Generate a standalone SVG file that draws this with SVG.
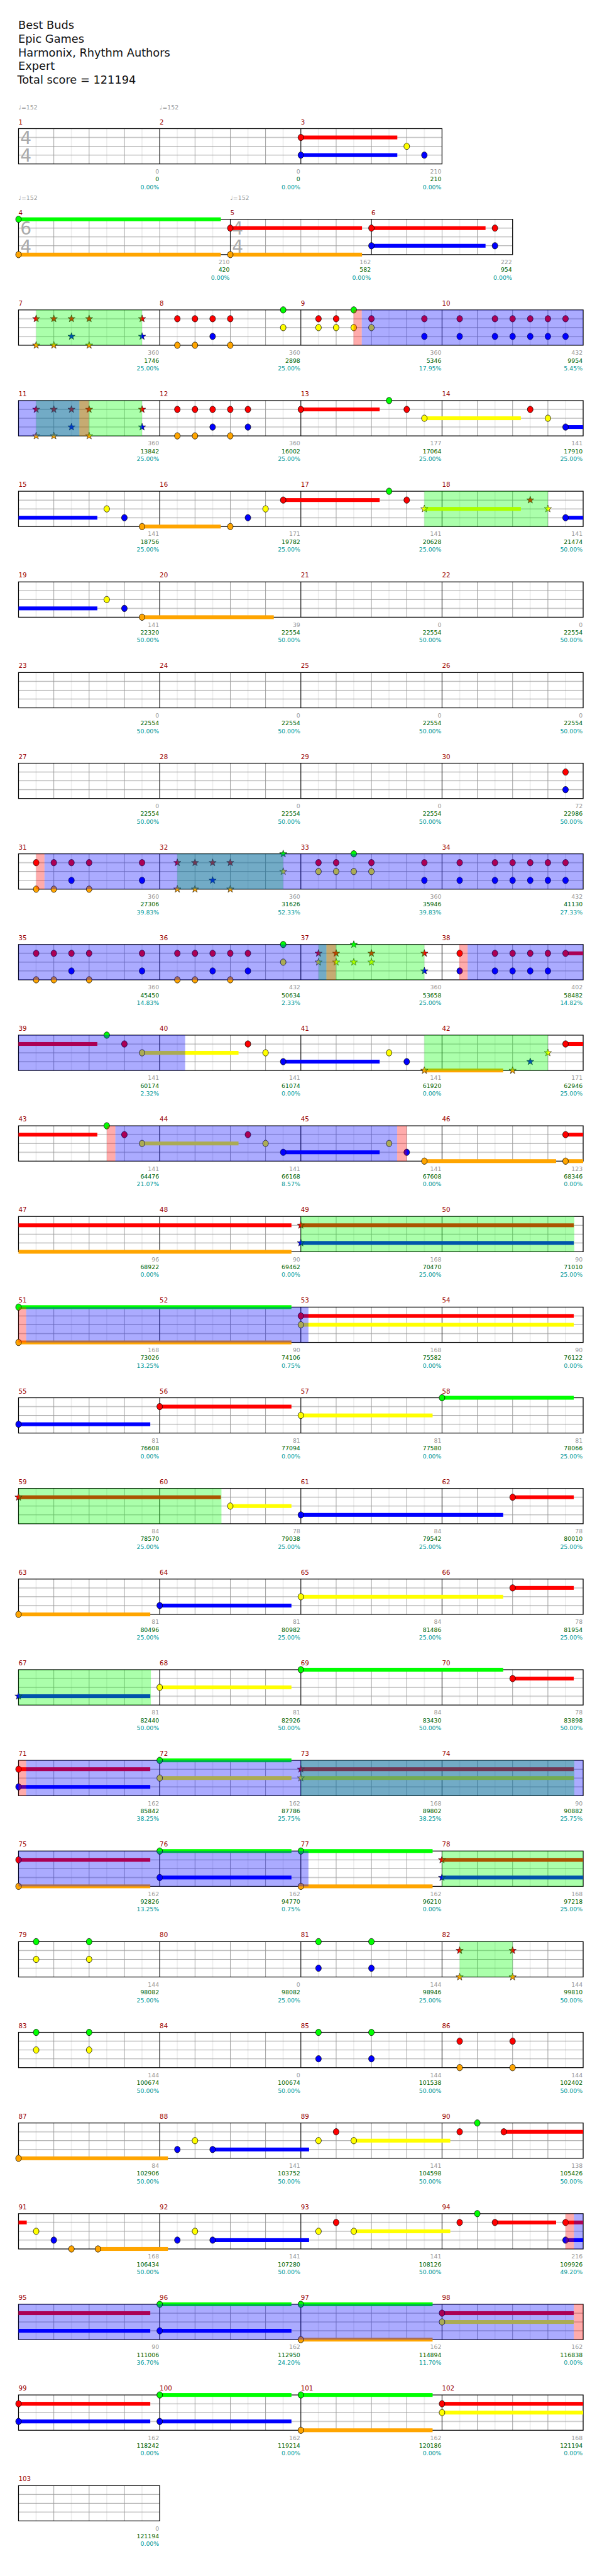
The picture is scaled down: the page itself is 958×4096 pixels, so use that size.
<svg xmlns="http://www.w3.org/2000/svg" xmlns:xlink="http://www.w3.org/1999/xlink" width="958" height="4096" viewBox="0 0 958 4096">
<defs>
<style>
.R{fill:#f00}.G{fill:#0f0}.Y{fill:#ff0}.B{fill:#00f}.O{fill:#ffa500}
.og{fill:#0f0;opacity:.33}.ob{fill:#00f;opacity:.33}.or{fill:#f00;opacity:.33}
.ml{stroke:#000;stroke-width:1;fill:none}
.st{fill:none;stroke:#000;stroke-width:1.3}
.ti{font:19px "DejaVu Sans",sans-serif;fill:#111}
.tp{font:10px "DejaVu Sans",sans-serif;fill:#999}
.mn{font:11px "DejaVu Sans",sans-serif;fill:#990000}
.ts{font:30px "DejaVu Sans",sans-serif;fill:#aaa;text-anchor:middle}
.a,.b,.c{font:10px "DejaVu Sans",sans-serif;text-anchor:end}
.a{fill:#999}.b{fill:#006400}.c{fill:#009999}
</style>
<pattern id="grid" patternUnits="userSpaceOnUse" x="31" y="0" width="60" height="60">
<rect x="30" y="0" width="1" height="60" fill="#ddd"/>
<rect x="0" y="0" width="1" height="60" fill="#999"/>
<rect x="0" y="14.5" width="60" height="1" fill="#999"/>
<rect x="0" y="29.5" width="60" height="1" fill="#999"/>
<rect x="0" y="44.5" width="60" height="1" fill="#999"/>
</pattern>
<ellipse id="h" cx="0" cy="0" rx="4.8" ry="5.5" stroke="#000" stroke-width="0.8"/>
<path id="s" d="M0,-6.5L1.53,-2.1L6.18,-2.01L2.47,0.8L3.82,5.26L0,2.6L-3.82,5.26L-2.47,0.8L-6.18,-2.01L-1.53,-2.1Z" stroke="#000" stroke-width="0.6"/>
</defs>
<rect width="958" height="4096" fill="#fff"/>
<g transform="scale(0.936)">
<g id="title">
<text class="ti" x="31" y="49.3">Best Buds</text>
<text class="ti" x="31" y="72.3">Epic Games</text>
<text class="ti" x="31" y="95.7">Harmonix, Rhythm Authors</text>
<text class="ti" x="31" y="118.3">Expert</text>
<text class="ti" x="29.3" y="141.7">Total score = 121194</text>
</g>

<g id="row1" transform="translate(0,218.5)">
<text class="tp" x="31.5" y="-32.5">♩=152</text><text class="tp" x="271.5" y="-32.5">♩=152</text>
<text class="mn" x="31.5" y="-7.5">1</text><text class="mn" x="271.5" y="-7.5">2</text><text class="mn" x="511.5" y="-7.5">3</text>
<rect x="31.5" width="720" height="60" fill="url(#grid)"/>
<path class="ml" d="M271.5 0V60M511.5 0V60"/>
<rect class="st" x="31.5" width="720" height="60"/>
<text class="ts" x="44" y="26.5">4</text><text class="ts" x="44" y="56.5">4</text>
<rect class="R" x="511.5" y="11.75" width="164" height="6.5"/><rect class="B" x="511.5" y="41.75" width="164" height="6.5"/>
<use href="#h" x="511.5" y="15" class="R"/><use href="#h" x="511.5" y="45" class="B"/>
<use href="#h" x="691.5" y="30" class="Y"/><use href="#h" x="721.5" y="45" class="B"/>
<text class="a" x="270.5" y="76.3">0</text><text class="b" x="270.5" y="89.5">0</text><text class="c" x="270.5" y="102.7">0.00%</text>
<text class="a" x="510.5" y="76.3">0</text><text class="b" x="510.5" y="89.5">0</text><text class="c" x="510.5" y="102.7">0.00%</text>
<text class="a" x="750.5" y="76.3">210</text><text class="b" x="750.5" y="89.5">210</text><text class="c" x="750.5" y="102.7">0.00%</text>
</g>

<g id="row2" transform="translate(0,372.5)">
<text class="tp" x="31.5" y="-32.5">♩=152</text><text class="tp" x="391.5" y="-32.5">♩=152</text>
<text class="mn" x="31.5" y="-7.5">4</text><text class="mn" x="391.5" y="-7.5">5</text><text class="mn" x="631.5" y="-7.5">6</text>
<rect x="31.5" width="840" height="60" fill="url(#grid)"/>
<path class="ml" d="M391.5 0V60M631.5 0V60"/>
<rect class="st" x="31.5" width="840" height="60"/>
<text class="ts" x="44" y="26.5">6</text><text class="ts" x="44" y="56.5">4</text>
<text class="ts" x="404" y="26.5">4</text><text class="ts" x="404" y="56.5">4</text>
<rect class="G" x="31.5" y="-3.25" width="344" height="6.5"/><rect class="O" x="31.5" y="56.75" width="344" height="6.5"/>
<rect class="R" x="391.5" y="11.75" width="224" height="6.5"/><rect class="O" x="391.5" y="56.75" width="224" height="6.5"/>
<rect class="R" x="631.5" y="11.75" width="194" height="6.5"/><rect class="B" x="631.5" y="41.75" width="194" height="6.5"/>
<use href="#h" x="31.5" y="0" class="G"/><use href="#h" x="31.5" y="60" class="O"/>
<use href="#h" x="391.5" y="15" class="R"/><use href="#h" x="391.5" y="60" class="O"/>
<use href="#h" x="631.5" y="15" class="R"/><use href="#h" x="631.5" y="45" class="B"/>
<use href="#h" x="841.5" y="15" class="R"/><use href="#h" x="841.5" y="45" class="B"/>
<text class="a" x="390.5" y="76.3">210</text><text class="b" x="390.5" y="89.5">420</text><text class="c" x="390.5" y="102.7">0.00%</text>
<text class="a" x="630.5" y="76.3">162</text><text class="b" x="630.5" y="89.5">582</text><text class="c" x="630.5" y="102.7">0.00%</text>
<text class="a" x="870.5" y="76.3">222</text><text class="b" x="870.5" y="89.5">954</text><text class="c" x="870.5" y="102.7">0.00%</text>
</g>

<g id="row3" transform="translate(0,526.5)">
<text class="mn" x="31.5" y="-7.5">7</text><text class="mn" x="271.5" y="-7.5">8</text><text class="mn" x="511.5" y="-7.5">9</text><text class="mn" x="751.5" y="-7.5">10</text>
<rect x="31.5" width="960" height="60" fill="url(#grid)"/>
<path class="ml" d="M271.5 0V60M511.5 0V60M751.5 0V60"/>
<rect class="st" x="31.5" width="960" height="60"/>
<use href="#s" x="61.5" y="15" class="R"/><use href="#s" x="61.5" y="60" class="O"/>
<use href="#s" x="91.5" y="15" class="R"/><use href="#s" x="91.5" y="60" class="O"/>
<use href="#s" x="121.5" y="15" class="R"/><use href="#s" x="121.5" y="45" class="B"/>
<use href="#s" x="151.5" y="15" class="R"/><use href="#s" x="151.5" y="60" class="O"/>
<use href="#s" x="241.5" y="15" class="R"/><use href="#s" x="241.5" y="45" class="B"/>
<use href="#h" x="301.5" y="15" class="R"/><use href="#h" x="301.5" y="60" class="O"/>
<use href="#h" x="331.5" y="15" class="R"/><use href="#h" x="331.5" y="60" class="O"/>
<use href="#h" x="361.5" y="15" class="R"/><use href="#h" x="361.5" y="45" class="B"/>
<use href="#h" x="391.5" y="15" class="R"/><use href="#h" x="391.5" y="60" class="O"/>
<use href="#h" x="481.5" y="0" class="G"/><use href="#h" x="481.5" y="30" class="Y"/>
<use href="#h" x="541.5" y="15" class="R"/><use href="#h" x="541.5" y="30" class="Y"/>
<use href="#h" x="571.5" y="15" class="R"/><use href="#h" x="571.5" y="30" class="Y"/>
<use href="#h" x="601.5" y="0" class="G"/><use href="#h" x="601.5" y="30" class="Y"/>
<use href="#h" x="631.5" y="15" class="R"/><use href="#h" x="631.5" y="30" class="Y"/>
<use href="#h" x="721.5" y="15" class="R"/><use href="#h" x="721.5" y="45" class="B"/>
<use href="#h" x="781.5" y="15" class="R"/><use href="#h" x="781.5" y="45" class="B"/>
<use href="#h" x="841.5" y="15" class="R"/><use href="#h" x="841.5" y="45" class="B"/>
<use href="#h" x="871.5" y="15" class="R"/><use href="#h" x="871.5" y="45" class="B"/>
<use href="#h" x="901.5" y="15" class="R"/><use href="#h" x="901.5" y="45" class="B"/>
<use href="#h" x="931.5" y="15" class="R"/><use href="#h" x="931.5" y="45" class="B"/>
<use href="#h" x="961.5" y="15" class="R"/><use href="#h" x="961.5" y="45" class="B"/>
<rect class="og" x="61.5" width="180" height="60"/>
<rect class="ob" x="615" width="376.5" height="60"/>
<rect class="or" x="601" width="14" height="60"/>
<text class="a" x="270.5" y="76.3">360</text><text class="b" x="270.5" y="89.5">1746</text><text class="c" x="270.5" y="102.7">25.00%</text>
<text class="a" x="510.5" y="76.3">360</text><text class="b" x="510.5" y="89.5">2898</text><text class="c" x="510.5" y="102.7">25.00%</text>
<text class="a" x="750.5" y="76.3">360</text><text class="b" x="750.5" y="89.5">5346</text><text class="c" x="750.5" y="102.7">17.95%</text>
<text class="a" x="990.5" y="76.3">432</text><text class="b" x="990.5" y="89.5">9954</text><text class="c" x="990.5" y="102.7">5.45%</text>
</g>

<g id="row4" transform="translate(0,680.5)">
<text class="mn" x="31.5" y="-7.5">11</text><text class="mn" x="271.5" y="-7.5">12</text><text class="mn" x="511.5" y="-7.5">13</text><text class="mn" x="751.5" y="-7.5">14</text>
<rect x="31.5" width="960" height="60" fill="url(#grid)"/>
<path class="ml" d="M271.5 0V60M511.5 0V60M751.5 0V60"/>
<rect class="st" x="31.5" width="960" height="60"/>
<use href="#s" x="61.5" y="15" class="R"/><use href="#s" x="61.5" y="60" class="O"/>
<use href="#s" x="91.5" y="15" class="R"/><use href="#s" x="91.5" y="60" class="O"/>
<use href="#s" x="121.5" y="15" class="R"/><use href="#s" x="121.5" y="45" class="B"/>
<use href="#s" x="151.5" y="15" class="R"/><use href="#s" x="151.5" y="60" class="O"/>
<use href="#s" x="241.5" y="15" class="R"/><use href="#s" x="241.5" y="45" class="B"/>
<use href="#h" x="301.5" y="15" class="R"/><use href="#h" x="301.5" y="60" class="O"/>
<use href="#h" x="331.5" y="15" class="R"/><use href="#h" x="331.5" y="60" class="O"/>
<use href="#h" x="361.5" y="15" class="R"/><use href="#h" x="361.5" y="45" class="B"/>
<use href="#h" x="391.5" y="15" class="R"/><use href="#h" x="391.5" y="60" class="O"/>
<use href="#h" x="421.5" y="15" class="R"/><use href="#h" x="421.5" y="45" class="B"/>
<rect class="R" x="511.5" y="11.75" width="134" height="6.5"/><use href="#h" x="511.5" y="15" class="R"/>
<use href="#h" x="661.5" y="0" class="G"/><use href="#h" x="691.5" y="15" class="R"/>
<rect class="Y" x="721.5" y="26.75" width="164" height="6.5"/><use href="#h" x="721.5" y="30" class="Y"/>
<use href="#h" x="901.5" y="15" class="R"/><use href="#h" x="931.5" y="30" class="Y"/>
<rect class="B" x="961.5" y="41.75" width="30" height="6.5"/><use href="#h" x="961.5" y="45" class="B"/>
<rect class="og" x="61.5" width="180" height="60"/>
<rect class="ob" x="31.5" width="103.5" height="60"/>
<rect class="or" x="135" width="16" height="60"/>
<text class="a" x="270.5" y="76.3">360</text><text class="b" x="270.5" y="89.5">13842</text><text class="c" x="270.5" y="102.7">25.00%</text>
<text class="a" x="510.5" y="76.3">360</text><text class="b" x="510.5" y="89.5">16002</text><text class="c" x="510.5" y="102.7">25.00%</text>
<text class="a" x="750.5" y="76.3">177</text><text class="b" x="750.5" y="89.5">17064</text><text class="c" x="750.5" y="102.7">25.00%</text>
<text class="a" x="990.5" y="76.3">141</text><text class="b" x="990.5" y="89.5">17910</text><text class="c" x="990.5" y="102.7">25.00%</text>
</g>

<g id="row5" transform="translate(0,834.5)">
<text class="mn" x="31.5" y="-7.5">15</text><text class="mn" x="271.5" y="-7.5">16</text><text class="mn" x="511.5" y="-7.5">17</text><text class="mn" x="751.5" y="-7.5">18</text>
<rect x="31.5" width="960" height="60" fill="url(#grid)"/>
<path class="ml" d="M271.5 0V60M511.5 0V60M751.5 0V60"/>
<rect class="st" x="31.5" width="960" height="60"/>
<rect class="B" x="31.5" y="41.75" width="134" height="6.5"/>
<use href="#h" x="181.5" y="30" class="Y"/><use href="#h" x="211.5" y="45" class="B"/>
<rect class="O" x="241.5" y="56.75" width="134" height="6.5"/><use href="#h" x="241.5" y="60" class="O"/>
<use href="#h" x="391.5" y="60" class="O"/><use href="#h" x="421.5" y="45" class="B"/><use href="#h" x="451.5" y="30" class="Y"/>
<rect class="R" x="481.5" y="11.75" width="164" height="6.5"/><use href="#h" x="481.5" y="15" class="R"/>
<use href="#h" x="661.5" y="0" class="G"/><use href="#h" x="691.5" y="15" class="R"/>
<rect class="Y" x="721.5" y="26.75" width="164" height="6.5"/><use href="#s" x="721.5" y="30" class="Y"/>
<use href="#s" x="901.5" y="15" class="R"/><use href="#s" x="931.5" y="30" class="Y"/>
<rect class="B" x="961.5" y="41.75" width="30" height="6.5"/><use href="#h" x="961.5" y="45" class="B"/>
<rect class="og" x="721.5" width="210" height="60"/>
<text class="a" x="270.5" y="76.3">141</text><text class="b" x="270.5" y="89.5">18756</text><text class="c" x="270.5" y="102.7">25.00%</text>
<text class="a" x="510.5" y="76.3">171</text><text class="b" x="510.5" y="89.5">19782</text><text class="c" x="510.5" y="102.7">25.00%</text>
<text class="a" x="750.5" y="76.3">141</text><text class="b" x="750.5" y="89.5">20628</text><text class="c" x="750.5" y="102.7">25.00%</text>
<text class="a" x="990.5" y="76.3">141</text><text class="b" x="990.5" y="89.5">21474</text><text class="c" x="990.5" y="102.7">50.00%</text>
</g>

<g id="row6" transform="translate(0,988.5)">
<text class="mn" x="31.5" y="-7.5">19</text><text class="mn" x="271.5" y="-7.5">20</text><text class="mn" x="511.5" y="-7.5">21</text><text class="mn" x="751.5" y="-7.5">22</text>
<rect x="31.5" width="960" height="60" fill="url(#grid)"/>
<path class="ml" d="M271.5 0V60M511.5 0V60M751.5 0V60"/>
<rect class="st" x="31.5" width="960" height="60"/>
<rect class="B" x="31.5" y="41.75" width="134" height="6.5"/>
<use href="#h" x="181.5" y="30" class="Y"/><use href="#h" x="211.5" y="45" class="B"/>
<rect class="O" x="241.5" y="56.75" width="224" height="6.5"/><use href="#h" x="241.5" y="60" class="O"/>
<text class="a" x="270.5" y="76.3">141</text><text class="b" x="270.5" y="89.5">22320</text><text class="c" x="270.5" y="102.7">50.00%</text>
<text class="a" x="510.5" y="76.3">39</text><text class="b" x="510.5" y="89.5">22554</text><text class="c" x="510.5" y="102.7">50.00%</text>
<text class="a" x="750.5" y="76.3">0</text><text class="b" x="750.5" y="89.5">22554</text><text class="c" x="750.5" y="102.7">50.00%</text>
<text class="a" x="990.5" y="76.3">0</text><text class="b" x="990.5" y="89.5">22554</text><text class="c" x="990.5" y="102.7">50.00%</text>
</g>

<g id="row7" transform="translate(0,1142.5)">
<text class="mn" x="31.5" y="-7.5">23</text><text class="mn" x="271.5" y="-7.5">24</text><text class="mn" x="511.5" y="-7.5">25</text><text class="mn" x="751.5" y="-7.5">26</text>
<rect x="31.5" width="960" height="60" fill="url(#grid)"/>
<path class="ml" d="M271.5 0V60M511.5 0V60M751.5 0V60"/>
<rect class="st" x="31.5" width="960" height="60"/>
<text class="a" x="270.5" y="76.3">0</text><text class="b" x="270.5" y="89.5">22554</text><text class="c" x="270.5" y="102.7">50.00%</text>
<text class="a" x="510.5" y="76.3">0</text><text class="b" x="510.5" y="89.5">22554</text><text class="c" x="510.5" y="102.7">50.00%</text>
<text class="a" x="750.5" y="76.3">0</text><text class="b" x="750.5" y="89.5">22554</text><text class="c" x="750.5" y="102.7">50.00%</text>
<text class="a" x="990.5" y="76.3">0</text><text class="b" x="990.5" y="89.5">22554</text><text class="c" x="990.5" y="102.7">50.00%</text>
</g>

<g id="row8" transform="translate(0,1296.5)">
<text class="mn" x="31.5" y="-7.5">27</text><text class="mn" x="271.5" y="-7.5">28</text><text class="mn" x="511.5" y="-7.5">29</text><text class="mn" x="751.5" y="-7.5">30</text>
<rect x="31.5" width="960" height="60" fill="url(#grid)"/>
<path class="ml" d="M271.5 0V60M511.5 0V60M751.5 0V60"/>
<rect class="st" x="31.5" width="960" height="60"/>
<use href="#h" x="961.5" y="15" class="R"/><use href="#h" x="961.5" y="45" class="B"/>
<text class="a" x="270.5" y="76.3">0</text><text class="b" x="270.5" y="89.5">22554</text><text class="c" x="270.5" y="102.7">50.00%</text>
<text class="a" x="510.5" y="76.3">0</text><text class="b" x="510.5" y="89.5">22554</text><text class="c" x="510.5" y="102.7">50.00%</text>
<text class="a" x="750.5" y="76.3">0</text><text class="b" x="750.5" y="89.5">22554</text><text class="c" x="750.5" y="102.7">50.00%</text>
<text class="a" x="990.5" y="76.3">72</text><text class="b" x="990.5" y="89.5">22986</text><text class="c" x="990.5" y="102.7">50.00%</text>
</g>

<g id="row9" transform="translate(0,1450.5)">
<text class="mn" x="31.5" y="-7.5">31</text><text class="mn" x="271.5" y="-7.5">32</text><text class="mn" x="511.5" y="-7.5">33</text><text class="mn" x="751.5" y="-7.5">34</text>
<rect x="31.5" width="960" height="60" fill="url(#grid)"/>
<path class="ml" d="M271.5 0V60M511.5 0V60M751.5 0V60"/>
<rect class="st" x="31.5" width="960" height="60"/>
<use href="#h" x="61.5" y="15" class="R"/><use href="#h" x="61.5" y="60" class="O"/>
<use href="#h" x="91.5" y="15" class="R"/><use href="#h" x="91.5" y="60" class="O"/>
<use href="#h" x="121.5" y="15" class="R"/><use href="#h" x="121.5" y="45" class="B"/>
<use href="#h" x="151.5" y="15" class="R"/><use href="#h" x="151.5" y="60" class="O"/>
<use href="#h" x="241.5" y="15" class="R"/><use href="#h" x="241.5" y="45" class="B"/>
<use href="#s" x="301.5" y="15" class="R"/><use href="#s" x="301.5" y="60" class="O"/>
<use href="#s" x="331.5" y="15" class="R"/><use href="#s" x="331.5" y="60" class="O"/>
<use href="#s" x="361.5" y="15" class="R"/><use href="#s" x="361.5" y="45" class="B"/>
<use href="#s" x="391.5" y="15" class="R"/><use href="#s" x="391.5" y="60" class="O"/>
<use href="#s" x="481.5" y="0" class="G"/><use href="#s" x="481.5" y="30" class="Y"/>
<use href="#h" x="541.5" y="15" class="R"/><use href="#h" x="541.5" y="30" class="Y"/>
<use href="#h" x="571.5" y="15" class="R"/><use href="#h" x="571.5" y="30" class="Y"/>
<use href="#h" x="601.5" y="0" class="G"/><use href="#h" x="601.5" y="30" class="Y"/>
<use href="#h" x="631.5" y="15" class="R"/><use href="#h" x="631.5" y="30" class="Y"/>
<use href="#h" x="721.5" y="15" class="R"/><use href="#h" x="721.5" y="45" class="B"/>
<use href="#h" x="781.5" y="15" class="R"/><use href="#h" x="781.5" y="45" class="B"/>
<use href="#h" x="841.5" y="15" class="R"/><use href="#h" x="841.5" y="45" class="B"/>
<use href="#h" x="871.5" y="15" class="R"/><use href="#h" x="871.5" y="45" class="B"/>
<use href="#h" x="901.5" y="15" class="R"/><use href="#h" x="901.5" y="45" class="B"/>
<use href="#h" x="931.5" y="15" class="R"/><use href="#h" x="931.5" y="45" class="B"/>
<use href="#h" x="961.5" y="15" class="R"/><use href="#h" x="961.5" y="45" class="B"/>
<rect class="og" x="301.5" width="180" height="60"/>
<rect class="ob" x="75.5" width="916" height="60"/>
<rect class="or" x="61.5" width="14" height="60"/>
<text class="a" x="270.5" y="76.3">360</text><text class="b" x="270.5" y="89.5">27306</text><text class="c" x="270.5" y="102.7">39.83%</text>
<text class="a" x="510.5" y="76.3">360</text><text class="b" x="510.5" y="89.5">31626</text><text class="c" x="510.5" y="102.7">52.33%</text>
<text class="a" x="750.5" y="76.3">360</text><text class="b" x="750.5" y="89.5">35946</text><text class="c" x="750.5" y="102.7">39.83%</text>
<text class="a" x="990.5" y="76.3">432</text><text class="b" x="990.5" y="89.5">41130</text><text class="c" x="990.5" y="102.7">27.33%</text>
</g>

<g id="row10" transform="translate(0,1604.5)">
<text class="mn" x="31.5" y="-7.5">35</text><text class="mn" x="271.5" y="-7.5">36</text><text class="mn" x="511.5" y="-7.5">37</text><text class="mn" x="751.5" y="-7.5">38</text>
<rect x="31.5" width="960" height="60" fill="url(#grid)"/>
<path class="ml" d="M271.5 0V60M511.5 0V60M751.5 0V60"/>
<rect class="st" x="31.5" width="960" height="60"/>
<use href="#h" x="61.5" y="15" class="R"/><use href="#h" x="61.5" y="60" class="O"/>
<use href="#h" x="91.5" y="15" class="R"/><use href="#h" x="91.5" y="60" class="O"/>
<use href="#h" x="121.5" y="15" class="R"/><use href="#h" x="121.5" y="45" class="B"/>
<use href="#h" x="151.5" y="15" class="R"/><use href="#h" x="151.5" y="60" class="O"/>
<use href="#h" x="241.5" y="15" class="R"/><use href="#h" x="241.5" y="45" class="B"/>
<use href="#h" x="301.5" y="15" class="R"/><use href="#h" x="301.5" y="60" class="O"/>
<use href="#h" x="331.5" y="15" class="R"/><use href="#h" x="331.5" y="60" class="O"/>
<use href="#h" x="361.5" y="15" class="R"/><use href="#h" x="361.5" y="45" class="B"/>
<use href="#h" x="391.5" y="15" class="R"/><use href="#h" x="391.5" y="60" class="O"/>
<use href="#h" x="421.5" y="15" class="R"/><use href="#h" x="421.5" y="45" class="B"/>
<use href="#h" x="481.5" y="0" class="G"/><use href="#h" x="481.5" y="30" class="Y"/>
<use href="#s" x="541.5" y="15" class="R"/><use href="#s" x="541.5" y="30" class="Y"/>
<use href="#s" x="571.5" y="15" class="R"/><use href="#s" x="571.5" y="30" class="Y"/>
<use href="#s" x="601.5" y="0" class="G"/><use href="#s" x="601.5" y="30" class="Y"/>
<use href="#s" x="631.5" y="15" class="R"/><use href="#s" x="631.5" y="30" class="Y"/>
<use href="#s" x="721.5" y="15" class="R"/><use href="#s" x="721.5" y="45" class="B"/>
<use href="#h" x="781.5" y="15" class="R"/><use href="#h" x="781.5" y="45" class="B"/>
<use href="#h" x="841.5" y="15" class="R"/><use href="#h" x="841.5" y="45" class="B"/>
<use href="#h" x="871.5" y="15" class="R"/><use href="#h" x="871.5" y="45" class="B"/>
<use href="#h" x="901.5" y="15" class="R"/><use href="#h" x="901.5" y="45" class="B"/>
<use href="#h" x="931.5" y="15" class="R"/><use href="#h" x="931.5" y="45" class="B"/>
<rect class="R" x="961.5" y="11.75" width="30" height="6.5"/><use href="#h" x="961.5" y="15" class="R"/>
<rect class="og" x="541.5" width="180" height="60"/>
<rect class="ob" x="31.5" width="523.5" height="60"/><rect class="ob" x="795" width="196.5" height="60"/>
<rect class="or" x="555" width="16" height="60"/><rect class="or" x="781" width="14" height="60"/>
<text class="a" x="270.5" y="76.3">360</text><text class="b" x="270.5" y="89.5">45450</text><text class="c" x="270.5" y="102.7">14.83%</text>
<text class="a" x="510.5" y="76.3">432</text><text class="b" x="510.5" y="89.5">50634</text><text class="c" x="510.5" y="102.7">2.33%</text>
<text class="a" x="750.5" y="76.3">360</text><text class="b" x="750.5" y="89.5">53658</text><text class="c" x="750.5" y="102.7">25.00%</text>
<text class="a" x="990.5" y="76.3">402</text><text class="b" x="990.5" y="89.5">58482</text><text class="c" x="990.5" y="102.7">14.82%</text>
</g>

<g id="row11" transform="translate(0,1758.5)">
<text class="mn" x="31.5" y="-7.5">39</text><text class="mn" x="271.5" y="-7.5">40</text><text class="mn" x="511.5" y="-7.5">41</text><text class="mn" x="751.5" y="-7.5">42</text>
<rect x="31.5" width="960" height="60" fill="url(#grid)"/>
<path class="ml" d="M271.5 0V60M511.5 0V60M751.5 0V60"/>
<rect class="st" x="31.5" width="960" height="60"/>
<rect class="R" x="31.5" y="11.75" width="134" height="6.5"/>
<use href="#h" x="181.5" y="0" class="G"/><use href="#h" x="211.5" y="15" class="R"/>
<rect class="Y" x="241.5" y="26.75" width="164" height="6.5"/><use href="#h" x="241.5" y="30" class="Y"/>
<use href="#h" x="421.5" y="15" class="R"/><use href="#h" x="451.5" y="30" class="Y"/>
<rect class="B" x="481.5" y="41.75" width="164" height="6.5"/><use href="#h" x="481.5" y="45" class="B"/>
<use href="#h" x="661.5" y="30" class="Y"/><use href="#h" x="691.5" y="45" class="B"/>
<rect class="O" x="721.5" y="56.75" width="134" height="6.5"/><use href="#s" x="721.5" y="60" class="O"/>
<use href="#s" x="871.5" y="60" class="O"/><use href="#s" x="901.5" y="45" class="B"/><use href="#s" x="931.5" y="30" class="Y"/>
<rect class="R" x="961.5" y="11.75" width="30" height="6.5"/><use href="#h" x="961.5" y="15" class="R"/>
<rect class="og" x="721.5" width="210" height="60"/>
<rect class="ob" x="31.5" width="283.3" height="60"/>
<text class="a" x="270.5" y="76.3">141</text><text class="b" x="270.5" y="89.5">60174</text><text class="c" x="270.5" y="102.7">2.32%</text>
<text class="a" x="510.5" y="76.3">141</text><text class="b" x="510.5" y="89.5">61074</text><text class="c" x="510.5" y="102.7">0.00%</text>
<text class="a" x="750.5" y="76.3">141</text><text class="b" x="750.5" y="89.5">61920</text><text class="c" x="750.5" y="102.7">0.00%</text>
<text class="a" x="990.5" y="76.3">171</text><text class="b" x="990.5" y="89.5">62946</text><text class="c" x="990.5" y="102.7">25.00%</text>
</g>

<g id="row12" transform="translate(0,1912.5)">
<text class="mn" x="31.5" y="-7.5">43</text><text class="mn" x="271.5" y="-7.5">44</text><text class="mn" x="511.5" y="-7.5">45</text><text class="mn" x="751.5" y="-7.5">46</text>
<rect x="31.5" width="960" height="60" fill="url(#grid)"/>
<path class="ml" d="M271.5 0V60M511.5 0V60M751.5 0V60"/>
<rect class="st" x="31.5" width="960" height="60"/>
<rect class="R" x="31.5" y="11.75" width="134" height="6.5"/>
<use href="#h" x="181.5" y="0" class="G"/><use href="#h" x="211.5" y="15" class="R"/>
<rect class="Y" x="241.5" y="26.75" width="164" height="6.5"/><use href="#h" x="241.5" y="30" class="Y"/>
<use href="#h" x="421.5" y="15" class="R"/><use href="#h" x="451.5" y="30" class="Y"/>
<rect class="B" x="481.5" y="41.75" width="164" height="6.5"/><use href="#h" x="481.5" y="45" class="B"/>
<use href="#h" x="661.5" y="30" class="Y"/><use href="#h" x="691.5" y="45" class="B"/>
<rect class="O" x="721.5" y="56.75" width="224" height="6.5"/><use href="#h" x="721.5" y="60" class="O"/>
<rect class="R" x="961.5" y="11.75" width="30" height="6.5"/><use href="#h" x="961.5" y="15" class="R"/>
<rect class="O" x="961.5" y="56.75" width="30" height="6.5"/><use href="#h" x="961.5" y="60" class="O"/>
<rect class="ob" x="196" width="479.3" height="60"/>
<rect class="or" x="181.5" width="14.5" height="60"/><rect class="or" x="675.3" width="16.2" height="60"/>
<text class="a" x="270.5" y="76.3">141</text><text class="b" x="270.5" y="89.5">64476</text><text class="c" x="270.5" y="102.7">21.07%</text>
<text class="a" x="510.5" y="76.3">141</text><text class="b" x="510.5" y="89.5">66168</text><text class="c" x="510.5" y="102.7">8.57%</text>
<text class="a" x="750.5" y="76.3">141</text><text class="b" x="750.5" y="89.5">67608</text><text class="c" x="750.5" y="102.7">0.00%</text>
<text class="a" x="990.5" y="76.3">123</text><text class="b" x="990.5" y="89.5">68346</text><text class="c" x="990.5" y="102.7">0.00%</text>
</g>

<g id="row13" transform="translate(0,2066.5)">
<text class="mn" x="31.5" y="-7.5">47</text><text class="mn" x="271.5" y="-7.5">48</text><text class="mn" x="511.5" y="-7.5">49</text><text class="mn" x="751.5" y="-7.5">50</text>
<rect x="31.5" width="960" height="60" fill="url(#grid)"/>
<path class="ml" d="M271.5 0V60M511.5 0V60M751.5 0V60"/>
<rect class="st" x="31.5" width="960" height="60"/>
<rect class="R" x="31.5" y="11.75" width="464" height="6.5"/><rect class="O" x="31.5" y="56.75" width="464" height="6.5"/>
<rect class="R" x="511.5" y="11.75" width="464" height="6.5"/><use href="#s" x="511.5" y="15" class="R"/>
<rect class="B" x="511.5" y="41.75" width="464" height="6.5"/><use href="#s" x="511.5" y="45" class="B"/>
<rect class="og" x="511.5" width="465" height="60"/>
<text class="a" x="270.5" y="76.3">96</text><text class="b" x="270.5" y="89.5">68922</text><text class="c" x="270.5" y="102.7">0.00%</text>
<text class="a" x="510.5" y="76.3">90</text><text class="b" x="510.5" y="89.5">69462</text><text class="c" x="510.5" y="102.7">0.00%</text>
<text class="a" x="750.5" y="76.3">168</text><text class="b" x="750.5" y="89.5">70470</text><text class="c" x="750.5" y="102.7">25.00%</text>
<text class="a" x="990.5" y="76.3">90</text><text class="b" x="990.5" y="89.5">71010</text><text class="c" x="990.5" y="102.7">25.00%</text>
</g>

<g id="row14" transform="translate(0,2220.5)">
<text class="mn" x="31.5" y="-7.5">51</text><text class="mn" x="271.5" y="-7.5">52</text><text class="mn" x="511.5" y="-7.5">53</text><text class="mn" x="751.5" y="-7.5">54</text>
<rect x="31.5" width="960" height="60" fill="url(#grid)"/>
<path class="ml" d="M271.5 0V60M511.5 0V60M751.5 0V60"/>
<rect class="st" x="31.5" width="960" height="60"/>
<rect class="G" x="31.5" y="-3.25" width="464" height="6.5"/><use href="#h" x="31.5" y="0" class="G"/>
<rect class="O" x="31.5" y="56.75" width="464" height="6.5"/><use href="#h" x="31.5" y="60" class="O"/>
<rect class="R" x="511.5" y="11.75" width="464" height="6.5"/><use href="#h" x="511.5" y="15" class="R"/>
<rect class="Y" x="511.5" y="26.75" width="464" height="6.5"/><use href="#h" x="511.5" y="30" class="Y"/>
<rect class="ob" x="44.4" width="480" height="60"/>
<rect class="or" x="31.5" width="12.9" height="60"/>
<text class="a" x="270.5" y="76.3">168</text><text class="b" x="270.5" y="89.5">73026</text><text class="c" x="270.5" y="102.7">13.25%</text>
<text class="a" x="510.5" y="76.3">90</text><text class="b" x="510.5" y="89.5">74106</text><text class="c" x="510.5" y="102.7">0.75%</text>
<text class="a" x="750.5" y="76.3">168</text><text class="b" x="750.5" y="89.5">75582</text><text class="c" x="750.5" y="102.7">0.00%</text>
<text class="a" x="990.5" y="76.3">90</text><text class="b" x="990.5" y="89.5">76122</text><text class="c" x="990.5" y="102.7">0.00%</text>
</g>

<g id="row15" transform="translate(0,2374.5)">
<text class="mn" x="31.5" y="-7.5">55</text><text class="mn" x="271.5" y="-7.5">56</text><text class="mn" x="511.5" y="-7.5">57</text><text class="mn" x="751.5" y="-7.5">58</text>
<rect x="31.5" width="960" height="60" fill="url(#grid)"/>
<path class="ml" d="M271.5 0V60M511.5 0V60M751.5 0V60"/>
<rect class="st" x="31.5" width="960" height="60"/>
<rect class="B" x="31.5" y="41.75" width="224" height="6.5"/><use href="#h" x="31.5" y="45" class="B"/>
<rect class="R" x="271.5" y="11.75" width="224" height="6.5"/><use href="#h" x="271.5" y="15" class="R"/>
<rect class="Y" x="511.5" y="26.75" width="224" height="6.5"/><use href="#h" x="511.5" y="30" class="Y"/>
<rect class="G" x="751.5" y="-3.25" width="224" height="6.5"/><use href="#h" x="751.5" y="0" class="G"/>
<text class="a" x="270.5" y="76.3">81</text><text class="b" x="270.5" y="89.5">76608</text><text class="c" x="270.5" y="102.7">0.00%</text>
<text class="a" x="510.5" y="76.3">81</text><text class="b" x="510.5" y="89.5">77094</text><text class="c" x="510.5" y="102.7">0.00%</text>
<text class="a" x="750.5" y="76.3">81</text><text class="b" x="750.5" y="89.5">77580</text><text class="c" x="750.5" y="102.7">0.00%</text>
<text class="a" x="990.5" y="76.3">81</text><text class="b" x="990.5" y="89.5">78066</text><text class="c" x="990.5" y="102.7">25.00%</text>
</g>

<g id="row16" transform="translate(0,2528.5)">
<text class="mn" x="31.5" y="-7.5">59</text><text class="mn" x="271.5" y="-7.5">60</text><text class="mn" x="511.5" y="-7.5">61</text><text class="mn" x="751.5" y="-7.5">62</text>
<rect x="31.5" width="960" height="60" fill="url(#grid)"/>
<path class="ml" d="M271.5 0V60M511.5 0V60M751.5 0V60"/>
<rect class="st" x="31.5" width="960" height="60"/>
<rect class="R" x="31.5" y="11.75" width="344" height="6.5"/><use href="#s" x="31.5" y="15" class="R"/>
<rect class="Y" x="391.5" y="26.75" width="104" height="6.5"/><use href="#h" x="391.5" y="30" class="Y"/>
<rect class="B" x="511.5" y="41.75" width="344" height="6.5"/><use href="#h" x="511.5" y="45" class="B"/>
<rect class="R" x="871.5" y="11.75" width="104" height="6.5"/><use href="#h" x="871.5" y="15" class="R"/>
<rect class="og" x="31.5" width="345" height="60"/>
<text class="a" x="270.5" y="76.3">84</text><text class="b" x="270.5" y="89.5">78570</text><text class="c" x="270.5" y="102.7">25.00%</text>
<text class="a" x="510.5" y="76.3">78</text><text class="b" x="510.5" y="89.5">79038</text><text class="c" x="510.5" y="102.7">25.00%</text>
<text class="a" x="750.5" y="76.3">84</text><text class="b" x="750.5" y="89.5">79542</text><text class="c" x="750.5" y="102.7">25.00%</text>
<text class="a" x="990.5" y="76.3">78</text><text class="b" x="990.5" y="89.5">80010</text><text class="c" x="990.5" y="102.7">25.00%</text>
</g>

<g id="row17" transform="translate(0,2682.5)">
<text class="mn" x="31.5" y="-7.5">63</text><text class="mn" x="271.5" y="-7.5">64</text><text class="mn" x="511.5" y="-7.5">65</text><text class="mn" x="751.5" y="-7.5">66</text>
<rect x="31.5" width="960" height="60" fill="url(#grid)"/>
<path class="ml" d="M271.5 0V60M511.5 0V60M751.5 0V60"/>
<rect class="st" x="31.5" width="960" height="60"/>
<rect class="O" x="31.5" y="56.75" width="224" height="6.5"/><use href="#h" x="31.5" y="60" class="O"/>
<rect class="B" x="271.5" y="41.75" width="224" height="6.5"/><use href="#h" x="271.5" y="45" class="B"/>
<rect class="Y" x="511.5" y="26.75" width="344" height="6.5"/><use href="#h" x="511.5" y="30" class="Y"/>
<rect class="R" x="871.5" y="11.75" width="104" height="6.5"/><use href="#h" x="871.5" y="15" class="R"/>
<text class="a" x="270.5" y="76.3">81</text><text class="b" x="270.5" y="89.5">80496</text><text class="c" x="270.5" y="102.7">25.00%</text>
<text class="a" x="510.5" y="76.3">81</text><text class="b" x="510.5" y="89.5">80982</text><text class="c" x="510.5" y="102.7">25.00%</text>
<text class="a" x="750.5" y="76.3">84</text><text class="b" x="750.5" y="89.5">81486</text><text class="c" x="750.5" y="102.7">25.00%</text>
<text class="a" x="990.5" y="76.3">78</text><text class="b" x="990.5" y="89.5">81954</text><text class="c" x="990.5" y="102.7">25.00%</text>
</g>

<g id="row18" transform="translate(0,2836.5)">
<text class="mn" x="31.5" y="-7.5">67</text><text class="mn" x="271.5" y="-7.5">68</text><text class="mn" x="511.5" y="-7.5">69</text><text class="mn" x="751.5" y="-7.5">70</text>
<rect x="31.5" width="960" height="60" fill="url(#grid)"/>
<path class="ml" d="M271.5 0V60M511.5 0V60M751.5 0V60"/>
<rect class="st" x="31.5" width="960" height="60"/>
<rect class="B" x="31.5" y="41.75" width="224" height="6.5"/><use href="#s" x="31.5" y="45" class="B"/>
<rect class="Y" x="271.5" y="26.75" width="224" height="6.5"/><use href="#h" x="271.5" y="30" class="Y"/>
<rect class="G" x="511.5" y="-3.25" width="344" height="6.5"/><use href="#h" x="511.5" y="0" class="G"/>
<rect class="R" x="871.5" y="11.75" width="104" height="6.5"/><use href="#h" x="871.5" y="15" class="R"/>
<rect class="og" x="31.5" width="225" height="60"/>
<text class="a" x="270.5" y="76.3">81</text><text class="b" x="270.5" y="89.5">82440</text><text class="c" x="270.5" y="102.7">50.00%</text>
<text class="a" x="510.5" y="76.3">81</text><text class="b" x="510.5" y="89.5">82926</text><text class="c" x="510.5" y="102.7">50.00%</text>
<text class="a" x="750.5" y="76.3">84</text><text class="b" x="750.5" y="89.5">83430</text><text class="c" x="750.5" y="102.7">50.00%</text>
<text class="a" x="990.5" y="76.3">78</text><text class="b" x="990.5" y="89.5">83898</text><text class="c" x="990.5" y="102.7">50.00%</text>
</g>

<g id="row19" transform="translate(0,2990.5)">
<text class="mn" x="31.5" y="-7.5">71</text><text class="mn" x="271.5" y="-7.5">72</text><text class="mn" x="511.5" y="-7.5">73</text><text class="mn" x="751.5" y="-7.5">74</text>
<rect x="31.5" width="960" height="60" fill="url(#grid)"/>
<path class="ml" d="M271.5 0V60M511.5 0V60M751.5 0V60"/>
<rect class="st" x="31.5" width="960" height="60"/>
<rect class="R" x="31.5" y="11.75" width="224" height="6.5"/><use href="#h" x="31.5" y="15" class="R"/>
<rect class="B" x="31.5" y="41.75" width="224" height="6.5"/><use href="#h" x="31.5" y="45" class="B"/>
<rect class="G" x="271.5" y="-3.25" width="224" height="6.5"/><use href="#h" x="271.5" y="0" class="G"/>
<rect class="Y" x="271.5" y="26.75" width="224" height="6.5"/><use href="#h" x="271.5" y="30" class="Y"/>
<rect class="R" x="511.5" y="11.75" width="464" height="6.5"/><use href="#s" x="511.5" y="15" class="R"/>
<rect class="Y" x="511.5" y="26.75" width="464" height="6.5"/><use href="#s" x="511.5" y="30" class="Y"/>
<rect class="og" x="511.5" width="465" height="60"/>
<rect class="ob" x="44.4" width="947.1" height="60"/>
<rect class="or" x="31.5" width="12.9" height="60"/>
<text class="a" x="270.5" y="76.3">162</text><text class="b" x="270.5" y="89.5">85842</text><text class="c" x="270.5" y="102.7">38.25%</text>
<text class="a" x="510.5" y="76.3">162</text><text class="b" x="510.5" y="89.5">87786</text><text class="c" x="510.5" y="102.7">25.75%</text>
<text class="a" x="750.5" y="76.3">168</text><text class="b" x="750.5" y="89.5">89802</text><text class="c" x="750.5" y="102.7">38.25%</text>
<text class="a" x="990.5" y="76.3">90</text><text class="b" x="990.5" y="89.5">90882</text><text class="c" x="990.5" y="102.7">25.75%</text>
</g>

<g id="row20" transform="translate(0,3144.5)">
<text class="mn" x="31.5" y="-7.5">75</text><text class="mn" x="271.5" y="-7.5">76</text><text class="mn" x="511.5" y="-7.5">77</text><text class="mn" x="751.5" y="-7.5">78</text>
<rect x="31.5" width="960" height="60" fill="url(#grid)"/>
<path class="ml" d="M271.5 0V60M511.5 0V60M751.5 0V60"/>
<rect class="st" x="31.5" width="960" height="60"/>
<rect class="R" x="31.5" y="11.75" width="224" height="6.5"/><use href="#h" x="31.5" y="15" class="R"/>
<rect class="O" x="31.5" y="56.75" width="224" height="6.5"/><use href="#h" x="31.5" y="60" class="O"/>
<rect class="G" x="271.5" y="-3.25" width="224" height="6.5"/><use href="#h" x="271.5" y="0" class="G"/>
<rect class="B" x="271.5" y="41.75" width="224" height="6.5"/><use href="#h" x="271.5" y="45" class="B"/>
<rect class="G" x="511.5" y="-3.25" width="224" height="6.5"/><use href="#h" x="511.5" y="0" class="G"/>
<rect class="O" x="511.5" y="56.75" width="224" height="6.5"/><use href="#h" x="511.5" y="60" class="O"/>
<rect class="R" x="751.5" y="11.75" width="240" height="6.5"/><use href="#s" x="751.5" y="15" class="R"/>
<rect class="B" x="751.5" y="41.75" width="240" height="6.5"/><use href="#s" x="751.5" y="45" class="B"/>
<rect class="og" x="751.5" width="240" height="60"/>
<rect class="ob" x="31.5" width="492.9" height="60"/>
<text class="a" x="270.5" y="76.3">162</text><text class="b" x="270.5" y="89.5">92826</text><text class="c" x="270.5" y="102.7">13.25%</text>
<text class="a" x="510.5" y="76.3">162</text><text class="b" x="510.5" y="89.5">94770</text><text class="c" x="510.5" y="102.7">0.75%</text>
<text class="a" x="750.5" y="76.3">162</text><text class="b" x="750.5" y="89.5">96210</text><text class="c" x="750.5" y="102.7">0.00%</text>
<text class="a" x="990.5" y="76.3">168</text><text class="b" x="990.5" y="89.5">97218</text><text class="c" x="990.5" y="102.7">25.00%</text>
</g>

<g id="row21" transform="translate(0,3298.5)">
<text class="mn" x="31.5" y="-7.5">79</text><text class="mn" x="271.5" y="-7.5">80</text><text class="mn" x="511.5" y="-7.5">81</text><text class="mn" x="751.5" y="-7.5">82</text>
<rect x="31.5" width="960" height="60" fill="url(#grid)"/>
<path class="ml" d="M271.5 0V60M511.5 0V60M751.5 0V60"/>
<rect class="st" x="31.5" width="960" height="60"/>
<use href="#h" x="61.5" y="0" class="G"/><use href="#h" x="61.5" y="30" class="Y"/>
<use href="#h" x="151.5" y="0" class="G"/><use href="#h" x="151.5" y="30" class="Y"/>
<use href="#h" x="541.5" y="0" class="G"/><use href="#h" x="541.5" y="45" class="B"/>
<use href="#h" x="631.5" y="0" class="G"/><use href="#h" x="631.5" y="45" class="B"/>
<use href="#s" x="781.5" y="15" class="R"/><use href="#s" x="781.5" y="60" class="O"/>
<use href="#s" x="871.5" y="15" class="R"/><use href="#s" x="871.5" y="60" class="O"/>
<rect class="og" x="781.5" width="90" height="60"/>
<text class="a" x="270.5" y="76.3">144</text><text class="b" x="270.5" y="89.5">98082</text><text class="c" x="270.5" y="102.7">25.00%</text>
<text class="a" x="510.5" y="76.3">0</text><text class="b" x="510.5" y="89.5">98082</text><text class="c" x="510.5" y="102.7">25.00%</text>
<text class="a" x="750.5" y="76.3">144</text><text class="b" x="750.5" y="89.5">98946</text><text class="c" x="750.5" y="102.7">25.00%</text>
<text class="a" x="990.5" y="76.3">144</text><text class="b" x="990.5" y="89.5">99810</text><text class="c" x="990.5" y="102.7">50.00%</text>
</g>

<g id="row22" transform="translate(0,3452.5)">
<text class="mn" x="31.5" y="-7.5">83</text><text class="mn" x="271.5" y="-7.5">84</text><text class="mn" x="511.5" y="-7.5">85</text><text class="mn" x="751.5" y="-7.5">86</text>
<rect x="31.5" width="960" height="60" fill="url(#grid)"/>
<path class="ml" d="M271.5 0V60M511.5 0V60M751.5 0V60"/>
<rect class="st" x="31.5" width="960" height="60"/>
<use href="#h" x="61.5" y="0" class="G"/><use href="#h" x="61.5" y="30" class="Y"/>
<use href="#h" x="151.5" y="0" class="G"/><use href="#h" x="151.5" y="30" class="Y"/>
<use href="#h" x="541.5" y="0" class="G"/><use href="#h" x="541.5" y="45" class="B"/>
<use href="#h" x="631.5" y="0" class="G"/><use href="#h" x="631.5" y="45" class="B"/>
<use href="#h" x="781.5" y="15" class="R"/><use href="#h" x="781.5" y="60" class="O"/>
<use href="#h" x="871.5" y="15" class="R"/><use href="#h" x="871.5" y="60" class="O"/>
<text class="a" x="270.5" y="76.3">144</text><text class="b" x="270.5" y="89.5">100674</text><text class="c" x="270.5" y="102.7">50.00%</text>
<text class="a" x="510.5" y="76.3">0</text><text class="b" x="510.5" y="89.5">100674</text><text class="c" x="510.5" y="102.7">50.00%</text>
<text class="a" x="750.5" y="76.3">144</text><text class="b" x="750.5" y="89.5">101538</text><text class="c" x="750.5" y="102.7">50.00%</text>
<text class="a" x="990.5" y="76.3">144</text><text class="b" x="990.5" y="89.5">102402</text><text class="c" x="990.5" y="102.7">50.00%</text>
</g>

<g id="row23" transform="translate(0,3606.5)">
<text class="mn" x="31.5" y="-7.5">87</text><text class="mn" x="271.5" y="-7.5">88</text><text class="mn" x="511.5" y="-7.5">89</text><text class="mn" x="751.5" y="-7.5">90</text>
<rect x="31.5" width="960" height="60" fill="url(#grid)"/>
<path class="ml" d="M271.5 0V60M511.5 0V60M751.5 0V60"/>
<rect class="st" x="31.5" width="960" height="60"/>
<rect class="O" x="31.5" y="56.75" width="254" height="6.5"/><use href="#h" x="31.5" y="60" class="O"/>
<use href="#h" x="301.5" y="45" class="B"/><use href="#h" x="331.5" y="30" class="Y"/>
<rect class="B" x="361.5" y="41.75" width="164" height="6.5"/><use href="#h" x="361.5" y="45" class="B"/>
<use href="#h" x="541.5" y="30" class="Y"/><use href="#h" x="571.5" y="15" class="R"/>
<rect class="Y" x="601.5" y="26.75" width="164" height="6.5"/><use href="#h" x="601.5" y="30" class="Y"/>
<use href="#h" x="781.5" y="15" class="R"/><use href="#h" x="811.5" y="0" class="G"/>
<rect class="R" x="856.5" y="11.75" width="135" height="6.5"/><use href="#h" x="856.5" y="15" class="R"/>
<text class="a" x="270.5" y="76.3">84</text><text class="b" x="270.5" y="89.5">102906</text><text class="c" x="270.5" y="102.7">50.00%</text>
<text class="a" x="510.5" y="76.3">141</text><text class="b" x="510.5" y="89.5">103752</text><text class="c" x="510.5" y="102.7">50.00%</text>
<text class="a" x="750.5" y="76.3">141</text><text class="b" x="750.5" y="89.5">104598</text><text class="c" x="750.5" y="102.7">50.00%</text>
<text class="a" x="990.5" y="76.3">138</text><text class="b" x="990.5" y="89.5">105426</text><text class="c" x="990.5" y="102.7">50.00%</text>
</g>

<g id="row24" transform="translate(0,3760.5)">
<text class="mn" x="31.5" y="-7.5">91</text><text class="mn" x="271.5" y="-7.5">92</text><text class="mn" x="511.5" y="-7.5">93</text><text class="mn" x="751.5" y="-7.5">94</text>
<rect x="31.5" width="960" height="60" fill="url(#grid)"/>
<path class="ml" d="M271.5 0V60M511.5 0V60M751.5 0V60"/>
<rect class="st" x="31.5" width="960" height="60"/>
<rect class="R" x="31.5" y="11.75" width="14" height="6.5"/>
<use href="#h" x="61.5" y="30" class="Y"/><use href="#h" x="91.5" y="45" class="B"/><use href="#h" x="121.5" y="60" class="O"/>
<rect class="O" x="166.5" y="56.75" width="119" height="6.5"/><use href="#h" x="166.5" y="60" class="O"/>
<use href="#h" x="301.5" y="45" class="B"/><use href="#h" x="331.5" y="30" class="Y"/>
<rect class="B" x="361.5" y="41.75" width="164" height="6.5"/><use href="#h" x="361.5" y="45" class="B"/>
<use href="#h" x="541.5" y="30" class="Y"/><use href="#h" x="571.5" y="15" class="R"/>
<rect class="Y" x="601.5" y="26.75" width="164" height="6.5"/><use href="#h" x="601.5" y="30" class="Y"/>
<use href="#h" x="781.5" y="15" class="R"/><use href="#h" x="811.5" y="0" class="G"/>
<rect class="R" x="841.5" y="11.75" width="104" height="6.5"/><use href="#h" x="841.5" y="15" class="R"/>
<rect class="R" x="961.5" y="11.75" width="30" height="6.5"/><use href="#h" x="961.5" y="15" class="R"/>
<rect class="B" x="961.5" y="41.75" width="30" height="6.5"/><use href="#h" x="961.5" y="45" class="B"/>
<rect class="ob" x="975.7" width="15.8" height="60"/>
<rect class="or" x="961.5" width="14.2" height="60"/>
<text class="a" x="270.5" y="76.3">168</text><text class="b" x="270.5" y="89.5">106434</text><text class="c" x="270.5" y="102.7">50.00%</text>
<text class="a" x="510.5" y="76.3">141</text><text class="b" x="510.5" y="89.5">107280</text><text class="c" x="510.5" y="102.7">50.00%</text>
<text class="a" x="750.5" y="76.3">141</text><text class="b" x="750.5" y="89.5">108126</text><text class="c" x="750.5" y="102.7">50.00%</text>
<text class="a" x="990.5" y="76.3">216</text><text class="b" x="990.5" y="89.5">109926</text><text class="c" x="990.5" y="102.7">49.20%</text>
</g>

<g id="row25" transform="translate(0,3914.5)">
<text class="mn" x="31.5" y="-7.5">95</text><text class="mn" x="271.5" y="-7.5">96</text><text class="mn" x="511.5" y="-7.5">97</text><text class="mn" x="751.5" y="-7.5">98</text>
<rect x="31.5" width="960" height="60" fill="url(#grid)"/>
<path class="ml" d="M271.5 0V60M511.5 0V60M751.5 0V60"/>
<rect class="st" x="31.5" width="960" height="60"/>
<rect class="R" x="31.5" y="11.75" width="224" height="6.5"/><rect class="B" x="31.5" y="41.75" width="224" height="6.5"/>
<rect class="G" x="271.5" y="-3.25" width="224" height="6.5"/><use href="#h" x="271.5" y="0" class="G"/>
<rect class="B" x="271.5" y="41.75" width="224" height="6.5"/><use href="#h" x="271.5" y="45" class="B"/>
<rect class="G" x="511.5" y="-3.25" width="224" height="6.5"/><use href="#h" x="511.5" y="0" class="G"/>
<rect class="O" x="511.5" y="56.75" width="224" height="6.5"/><use href="#h" x="511.5" y="60" class="O"/>
<rect class="R" x="751.5" y="11.75" width="224" height="6.5"/><use href="#h" x="751.5" y="15" class="R"/>
<rect class="Y" x="751.5" y="26.75" width="224" height="6.5"/><use href="#h" x="751.5" y="30" class="Y"/>
<rect class="ob" x="31.5" width="944.2" height="60"/>
<rect class="or" x="975.7" width="15.8" height="60"/>
<text class="a" x="270.5" y="76.3">90</text><text class="b" x="270.5" y="89.5">111006</text><text class="c" x="270.5" y="102.7">36.70%</text>
<text class="a" x="510.5" y="76.3">162</text><text class="b" x="510.5" y="89.5">112950</text><text class="c" x="510.5" y="102.7">24.20%</text>
<text class="a" x="750.5" y="76.3">162</text><text class="b" x="750.5" y="89.5">114894</text><text class="c" x="750.5" y="102.7">11.70%</text>
<text class="a" x="990.5" y="76.3">162</text><text class="b" x="990.5" y="89.5">116838</text><text class="c" x="990.5" y="102.7">0.00%</text>
</g>

<g id="row26" transform="translate(0,4068.5)">
<text class="mn" x="31.5" y="-7.5">99</text><text class="mn" x="271.5" y="-7.5">100</text><text class="mn" x="511.5" y="-7.5">101</text><text class="mn" x="751.5" y="-7.5">102</text>
<rect x="31.5" width="960" height="60" fill="url(#grid)"/>
<path class="ml" d="M271.5 0V60M511.5 0V60M751.5 0V60"/>
<rect class="st" x="31.5" width="960" height="60"/>
<rect class="R" x="31.5" y="11.75" width="224" height="6.5"/><use href="#h" x="31.5" y="15" class="R"/>
<rect class="B" x="31.5" y="41.75" width="224" height="6.5"/><use href="#h" x="31.5" y="45" class="B"/>
<rect class="G" x="271.5" y="-3.25" width="224" height="6.5"/><use href="#h" x="271.5" y="0" class="G"/>
<rect class="B" x="271.5" y="41.75" width="224" height="6.5"/><use href="#h" x="271.5" y="45" class="B"/>
<rect class="G" x="511.5" y="-3.25" width="224" height="6.5"/><use href="#h" x="511.5" y="0" class="G"/>
<rect class="O" x="511.5" y="56.75" width="224" height="6.5"/><use href="#h" x="511.5" y="60" class="O"/>
<rect class="R" x="751.5" y="11.75" width="240" height="6.5"/><use href="#h" x="751.5" y="15" class="R"/>
<rect class="Y" x="751.5" y="26.75" width="240" height="6.5"/><use href="#h" x="751.5" y="30" class="Y"/>
<text class="a" x="270.5" y="76.3">162</text><text class="b" x="270.5" y="89.5">118242</text><text class="c" x="270.5" y="102.7">0.00%</text>
<text class="a" x="510.5" y="76.3">162</text><text class="b" x="510.5" y="89.5">119214</text><text class="c" x="510.5" y="102.7">0.00%</text>
<text class="a" x="750.5" y="76.3">162</text><text class="b" x="750.5" y="89.5">120186</text><text class="c" x="750.5" y="102.7">0.00%</text>
<text class="a" x="990.5" y="76.3">168</text><text class="b" x="990.5" y="89.5">121194</text><text class="c" x="990.5" y="102.7">0.00%</text>
</g>

<g id="row27" transform="translate(0,4222.5)">
<text class="mn" x="31.5" y="-7.5">103</text>
<rect x="31.5" width="240" height="60" fill="url(#grid)"/>
<rect class="st" x="31.5" width="240" height="60"/>
<text class="a" x="270.5" y="76.3">0</text><text class="b" x="270.5" y="89.5">121194</text><text class="c" x="270.5" y="102.7">0.00%</text>
</g>
</g>
</svg>
